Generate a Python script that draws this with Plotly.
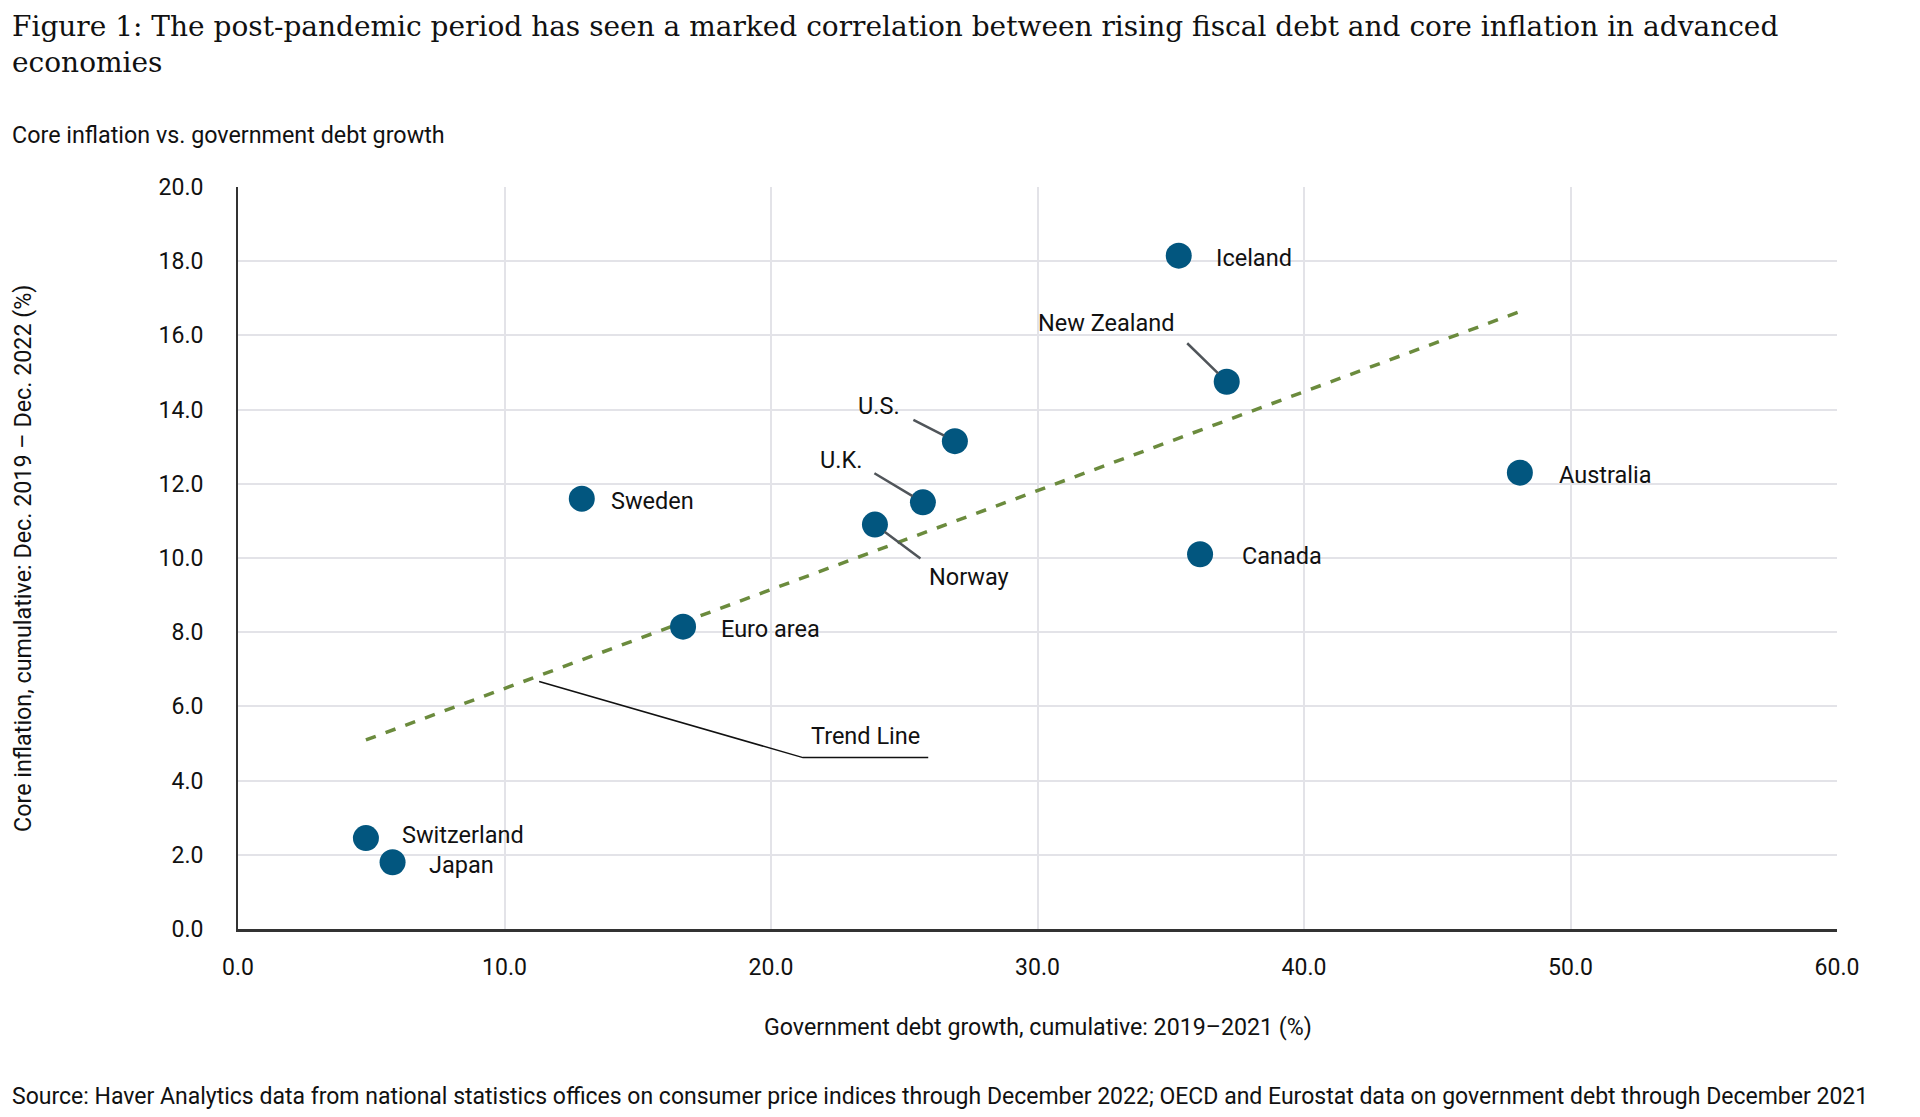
import numpy as np
import plotly.graph_objects as go

# Data
countries = ["Iceland", "New Zealand", "U.S.", "U.K.", "Norway", "Sweden",
             "Euro area", "Australia", "Canada", "Switzerland", "Japan"]
debt_growth = [35.3, 37.1, 26.9, 25.7, 23.9, 12.9, 16.7, 48.1, 36.1, 4.8, 5.8]
core_inflation = [18.15, 14.75, 13.15, 11.5, 10.9, 11.6, 8.15, 12.3, 10.1, 2.45, 1.8]

x_ticks = [0, 10, 20, 30, 40, 50, 60]
y_ticks = [0, 2, 4, 6, 8, 10, 12, 14, 16, 18, 20]

# Trend line: least-squares fit across the countries
slope, intercept = np.polyfit(debt_growth, core_inflation, 1)
trend_x = [min(debt_growth), max(debt_growth)]
trend_y = [slope * v + intercept for v in trend_x]

# Callout for the trend line (data coords)
callout_x = [11.3, 21.2, 25.9]
callout_y = [6.67, 4.62, 4.62]

FONT = "Roboto"
SERIF = "DejaVu Serif"
BLUE = "#02567f"
GREEN = "#6b8b3d"
INK = "#111111"

# label placement: plain labels to the right (xshift, yshift) ...
right_labels = {"Iceland": (35, -2), "Sweden": (27, -2), "Euro area": (36, -2),
                "Australia": (37, -2), "Canada": (40, -2),
                "Switzerland": (34, 3), "Japan": (34, -3)}
# ... or a text offset plus a leader line starting offset (px, screen y down)
leader_labels = {
    "U.S.": ((-76, -35), (-43, -22)),
    "U.K.": ((-82, -42), (-50, -30)),
    "Norway": ((94, 52), (47, 35)),
    "New Zealand": ((-120, -59), (-41, -40)),
}

fig = go.Figure()

fig.add_trace(go.Scatter(
    x=trend_x, y=trend_y, mode="lines",
    line=dict(color=GREEN, width=3.5, dash="dash"),
    hoverinfo="skip", showlegend=False
))

fig.add_trace(go.Scatter(
    x=callout_x, y=callout_y, mode="lines",
    line=dict(color=INK, width=1.5),
    hoverinfo="skip", showlegend=False
))

fig.add_trace(go.Scatter(
    x=debt_growth, y=core_inflation, mode="markers",
    marker=dict(size=26, color=BLUE),
    text=countries,
    hovertemplate="%{text}<br>%{x:.1f}, %{y:.1f}<extra></extra>",
    showlegend=False
))

annotations = []
for name, xv, yv in zip(countries, debt_growth, core_inflation):
    if name in right_labels:
        dx, dy = right_labels[name]
        annotations.append(dict(
            x=xv, y=yv, text=name, showarrow=False,
            xanchor="left", yanchor="middle", xshift=dx, yshift=dy,
            font=dict(family=FONT, size=23.5, color=INK)
        ))
    else:
        (tx, ty), (lx, ly) = leader_labels[name]
        annotations.append(dict(
            x=xv, y=yv, text="", showarrow=True,
            ax=lx, ay=ly, arrowhead=0, arrowwidth=2.5, arrowcolor="#50555a",
            standoff=12
        ))
        annotations.append(dict(
            x=xv, y=yv, text=name, showarrow=False,
            xanchor="center", yanchor="middle", xshift=tx, yshift=-ty,
            font=dict(family=FONT, size=23.5, color=INK)
        ))

annotations.append(dict(
    x=23.55, y=4.62, text="Trend Line", showarrow=False,
    xanchor="center", yanchor="bottom", yshift=6,
    font=dict(family=FONT, size=23.5, color=INK)
))

# titles and source
annotations += [
    dict(xref="paper", yref="paper", x=-0.1426, y=1.2412,
         text=("Figure 1: The post-pandemic period has seen a marked correlation between rising "
               "fiscal debt and core inflation in advanced<br>economies"),
         showarrow=False, xanchor="left", yanchor="top", align="left",
         font=dict(family=SERIF, size=28, color=INK)),
    dict(xref="paper", yref="paper", x=-0.1426, y=1.0701,
         text="Core inflation vs. government debt growth", showarrow=False,
         xanchor="left", yanchor="middle",
         font=dict(family=FONT, size=23.3, color=INK)),
    dict(xref="paper", yref="paper", x=0.5, y=-0.132,
         text="Government debt growth, cumulative: 2019\u20132021 (%)", showarrow=False,
         xanchor="center", yanchor="middle",
         font=dict(family=FONT, size=23.2, color=INK)),
    dict(xref="paper", yref="paper", x=-0.1345, y=0.5, textangle=-90,
         text="Core inflation, cumulative: Dec. 2019 \u2013 Dec. 2022 (%)", showarrow=False,
         xanchor="center", yanchor="middle",
         font=dict(family=FONT, size=23.3, color=INK)),
    dict(xref="paper", yref="paper", x=-0.1426, y=-0.2264,
         text=("Source: Haver Analytics data from national statistics offices on consumer price "
               "indices through December 2022; OECD and Eurostat data on government debt "
               "through December 2021"),
         showarrow=False, xanchor="left", yanchor="middle",
         font=dict(family=FONT, size=23, color=INK)),
]

# page body has an 8px margin, so the figure is 16px smaller than the window
fig.update_layout(
    width=1904, height=1101,
    paper_bgcolor="white", plot_bgcolor="white",
    margin=dict(l=230, r=75, t=179, b=180),
    xaxis=dict(
        range=[0, 60], tickvals=x_ticks, tickformat=".1f",
        showgrid=True, gridcolor="#e3e3e8", gridwidth=1.5,
        showline=True, linecolor="#333333", linewidth=3,
        zeroline=False, ticks="", ticklabelstandoff=15,
        tickfont=dict(family=FONT, size=23, color=INK)
    ),
    yaxis=dict(
        range=[0, 20], tickvals=y_ticks, tickformat=".1f",
        showgrid=True, gridcolor="#e3e3e8", gridwidth=1.5,
        showline=True, linecolor="#333333", linewidth=2,
        zeroline=False, ticks="", ticklabelstandoff=28,
        tickfont=dict(family=FONT, size=23, color=INK)
    ),
    annotations=annotations,
    showlegend=False
)

fig.write_html("out.html")
